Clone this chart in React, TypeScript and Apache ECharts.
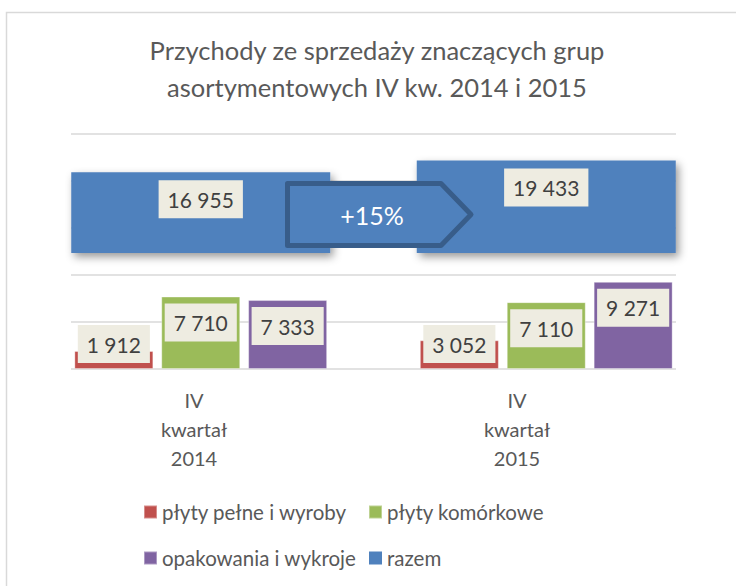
import React, { useEffect, useRef } from "react";
import * as echarts from "echarts";

const categories = ["IV\nkwartał\n2014", "IV\nkwartał\n2015"];
const seriesNames = ["płyty pełne i wyroby", "płyty komórkowe", "opakowania i wykroje", "razem"];
const plytyPelne = [1912, 3052];
const plytyKomorkowe = [7710, 7110];
const opakowania = [7333, 9271];
const razem = [16955, 19433];
const yTicks = { min: 0, max: 25000, interval: 5000 };
const changeLabel = "+15%";
const titleText = "Przychody ze sprzedaży znaczących grup\nasortymentowych IV kw. 2014 i 2015";

const FONT = "Lato, 'Open Sans', sans-serif";
const fmt = (v: number) => String(v).replace(/\B(?=(\d{3})+(?!\d))/g, " ");

const labelBase = {
  show: true,
  formatter: (p: any) => fmt(p.value),
  backgroundColor: "#eeece1",
  color: "#404040",
  fontSize: 21,
  fontFamily: FONT,
  lineHeight: 22,
  padding: [8, 9, 8, 9],
};

const lowerData = (vals: number[]) =>
  vals.map((v) => ({
    value: v,
    label: v < 5000 ? { position: "insideBottom", distance: 6 } : { position: "insideTop", distance: 7 },
  }));

export default function App() {
  const ref = useRef<HTMLDivElement>(null);
  useEffect(() => {
    if (!ref.current) return;
    const chart = echarts.init(ref.current, undefined, { renderer: "svg" });
    const hiddenY = (i: number) => ({
      type: "value",
      gridIndex: i,
      min: yTicks.min,
      max: yTicks.max,
      interval: yTicks.interval,
      show: false,
      splitLine: { show: false },
    });
    const hiddenX = (i: number) => ({
      type: "category",
      gridIndex: i,
      data: categories,
      show: false,
    });
    const legendText = { fontSize: 20.5, color: "#595959", fontFamily: FONT, lineHeight: 24 };
    const option: any = {
      animation: false,
      backgroundColor: "#ffffff",
      title: {
        text: titleText,
        left: 377,
        top: 31,
        padding: 0,
        textAlign: "center",
        textStyle: { fontSize: 25.5, fontWeight: "normal", color: "#595959", lineHeight: 37, fontFamily: FONT },
      },
      grid: [
        { left: 71, right: 60, top: 134, height: 235 },
        { left: 28, right: 17, top: 134, height: 235 },
        { left: 28, right: 17, top: 134, height: 119 },
        { left: 32.5, right: 57.5, top: 134, height: 235 },
      ],
      xAxis: [
        hiddenX(0),
        hiddenX(1),
        hiddenX(2),
        {
          type: "category",
          gridIndex: 3,
          data: categories,
          axisLine: { show: false },
          axisTick: { show: false },
          axisLabel: { margin: 16, fontSize: 20, lineHeight: 29, color: "#595959", fontFamily: FONT },
        },
      ],
      yAxis: [
        {
          type: "value",
          gridIndex: 0,
          min: yTicks.min,
          max: yTicks.max,
          interval: yTicks.interval,
          axisLabel: { show: false },
          axisLine: { show: false },
          axisTick: { show: false },
          splitLine: { show: true, lineStyle: { color: "#d9d9d9", width: 1.5 } },
        },
        hiddenY(1),
        hiddenY(2),
        hiddenY(3),
      ],
      legend: [
        {
          data: [seriesNames[0], seriesNames[2]],
          orient: "vertical",
          left: 143,
          top: 500,
          padding: 0,
          itemWidth: 13,
          itemHeight: 13,
          itemGap: 22,
          icon: "rect",
          textStyle: legendText,
        },
        {
          data: [seriesNames[1], seriesNames[3]],
          orient: "vertical",
          left: 368,
          top: 500,
          padding: 0,
          itemWidth: 13,
          itemHeight: 13,
          itemGap: 22,
          icon: "rect",
          textStyle: legendText,
        },
      ],
      series: [
        {
          name: seriesNames[0],
          type: "bar",
          xAxisIndex: 1,
          yAxisIndex: 1,
          barWidth: 79,
          barGap: "10%",
          data: lowerData(plytyPelne),
          itemStyle: { color: "#c0504d", borderColor: "rgba(255,255,255,0.35)", borderWidth: 1 },
          label: labelBase,
        },
        {
          name: seriesNames[1],
          type: "bar",
          xAxisIndex: 1,
          yAxisIndex: 1,
          barWidth: 79,
          barGap: "10%",
          data: lowerData(plytyKomorkowe),
          itemStyle: { color: "#9bbb59", borderColor: "rgba(255,255,255,0.35)", borderWidth: 1 },
          label: labelBase,
        },
        {
          name: seriesNames[2],
          type: "bar",
          xAxisIndex: 1,
          yAxisIndex: 1,
          barWidth: 79,
          barGap: "10%",
          data: lowerData(opakowania),
          itemStyle: { color: "#8064a2", borderColor: "rgba(255,255,255,0.35)", borderWidth: 1 },
          label: labelBase,
        },
        {
          name: seriesNames[3],
          type: "bar",
          xAxisIndex: 2,
          yAxisIndex: 2,
          barWidth: 259,
          data: razem,
          itemStyle: {
            color: "#4f81bd",
            shadowColor: "rgba(0,0,0,0.4)",
            shadowBlur: 8,
            shadowOffsetX: 3,
            shadowOffsetY: 4,
          },
          label: { ...labelBase, position: "insideTop", distance: 8 },
        },
      ],
      graphic: [
        {
          type: "rect",
          shape: { x: 6.5, y: 12.5, width: 900, height: 900 },
          style: { fill: "none", stroke: "#d9d9d9", lineWidth: 1.5 },
          silent: true,
          z: -10,
        },
        {
          type: "polygon",
          shape: {
            points: [
              [287.5, 183.5],
              [441, 183.5],
              [471, 214.5],
              [441, 245.5],
              [287.5, 245.5],
            ],
          },
          style: { fill: "#4f81bd", stroke: "#385d8a", lineWidth: 5, lineJoin: "round" },
          z: 100,
        },
        {
          type: "text",
          x: 372,
          y: 215,
          style: {
            text: changeLabel,
            fill: "#ffffff",
            fontSize: 25,
            fontFamily: FONT,
            align: "center",
            verticalAlign: "middle",
          },
          z: 101,
        },
      ],
    };
    chart.setOption(option);
    return () => chart.dispose();
  }, []);
  return (
    <div
      ref={ref}
      style={{ position: "fixed", left: 0, top: 0, width: 736, height: 586, background: "#fff" }}
    />
  );
}
